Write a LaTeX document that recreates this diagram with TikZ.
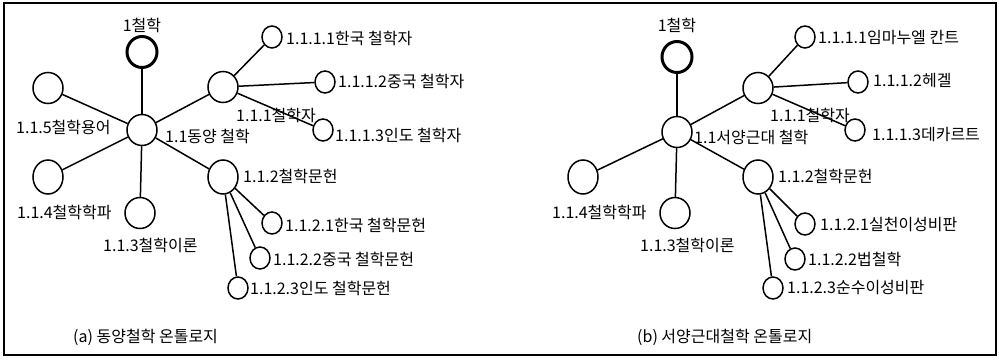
\documentclass[tikz,border=0pt]{standalone}
\usepackage{fontspec}
\setmainfont{Noto Sans CJK KR}
\usetikzlibrary{shapes.geometric}
\begin{document}
\begin{tikzpicture}[x=1pt,y=-1pt,
  bignode/.style={draw,ellipse,line width=1.5pt,inner sep=0pt,minimum width=30pt,minimum height=31pt},
  rootnode/.style={bignode,line width=3pt},
  smallnode/.style={draw,ellipse,line width=1.5pt,inner sep=0pt,minimum width=20pt,minimum height=22pt},
  lbl/.style={font=\fontsize{16}{18}\selectfont,inner sep=0pt,anchor=west},
  edge/.style={line width=1.5pt}]
\useasboundingbox (0,0) rectangle (999,359);
\draw[line width=1.2pt] (4,3) rectangle (996,355);

% ---------- (a) ----------
\node[rootnode] (aR) at (142,52) {};
\node[bignode] (a1) at (142,130) {};
\node[bignode] (a15) at (48,88) {};
\node[bignode] (a111) at (223,87) {};
\node[smallnode] (a1111) at (272,37) {};
\node[smallnode] (a1112) at (325,82) {};
\node[smallnode] (a1113) at (323,130) {};
\node[bignode,minimum height=34pt] (a14) at (48,177) {};
\node[bignode] (a13) at (140,213) {};
\node[bignode,minimum height=34pt] (a112) at (223,177) {};
\node[smallnode] (a1121) at (272,223) {};
\node[smallnode] (a1122) at (260,258) {};
\node[smallnode] (a1123) at (238,288) {};

\draw[edge] (aR) -- (a1);
\draw[edge] (a1) -- (a15);
\draw[edge] (a1) -- (a111);
\draw[edge] (a1) -- (a14);
\draw[edge] (a1) -- (a13);
\draw[edge] (a1) -- (a112);
\draw[edge] (a111) -- (a1111);
\draw[edge] (a111) -- (a1112);
\draw[edge] (a111) -- (a1113);
\draw[edge] (a112) -- (a1121);
\draw[edge] (a112) -- (a1122);
\draw[edge] (a112) -- (a1123);

\node[lbl,anchor=center] (taR) at (142,25) {1철학};
\node[lbl] (ta1) at (165,136) {1.1동양 철학};
\node[lbl] (ta15) at (16,127) {1.1.5철학용어};
\node[lbl] (ta111) at (236,115) {1.1.1철학자};
\node[lbl] (ta1111) at (286,38) {1.1.1.1한국 철학자};
\node[lbl] (ta1112) at (338,81) {1.1.1.2중국 철학자};
\node[lbl] (ta1113) at (335,135) {1.1.1.3인도 철학자};
\node[lbl] (ta14) at (17,212) {1.1.4철학학파};
\node[lbl] (ta13) at (103,245) {1.1.3철학이론};
\node[lbl] (ta112) at (243,176) {1.1.2철학문헌};
\node[lbl] (ta1121) at (285,225) {1.1.2.1한국 철학문헌};
\node[lbl] (ta1122) at (273,259) {1.1.2.2중국 철학문헌};
\node[lbl] (ta1123) at (250,288) {1.1.2.3인도 철학문헌};
\node[lbl] (capa) at (73,337) {(a) 동양철학 온톨로지};

% ---------- (b) ----------
\node[rootnode] (bR) at (677,57) {};
\node[bignode] (b1) at (677,132) {};
\node[bignode] (b111) at (758,88) {};
\node[smallnode] (b1111) at (805,37) {};
\node[smallnode] (b1112) at (858,82) {};
\node[smallnode] (b1113) at (855,130) {};
\node[bignode,minimum height=34pt] (b14) at (583,177) {};
\node[bignode] (b13) at (675,213) {};
\node[bignode,minimum height=34pt] (b112) at (758,177) {};
\node[smallnode] (b1121) at (805,224) {};
\node[smallnode] (b1122) at (795,259) {};
\node[smallnode] (b1123) at (773,288) {};

\draw[edge] (bR) -- (b1);
\draw[edge] (b1) -- (b111);
\draw[edge] (b1) -- (b14);
\draw[edge] (b1) -- (b13);
\draw[edge] (b1) -- (b112);
\draw[edge] (b111) -- (b1111);
\draw[edge] (b111) -- (b1112);
\draw[edge] (b111) -- (b1113);
\draw[edge] (b112) -- (b1121);
\draw[edge] (b112) -- (b1122);
\draw[edge] (b112) -- (b1123);

\node[lbl,anchor=center] (tbR) at (677,25) {1철학};
\node[lbl] (tb1) at (694,137) {1.1서양근대 철학};
\node[lbl] (tb111) at (770,115) {1.1.1철학자};
\node[lbl] (tb1111) at (818,38) {1.1.1.1임마누엘 칸트};
\node[lbl] (tb1112) at (873,81) {1.1.1.2헤겔};
\node[lbl] (tb1113) at (872,135) {1.1.1.3데카르트};
\node[lbl] (tb14) at (552,212) {1.1.4철학학파};
\node[lbl] (tb13) at (640,245) {1.1.3철학이론};
\node[lbl] (tb112) at (778,176) {1.1.2철학문헌};
\node[lbl] (tb1121) at (820,225) {1.1.2.1실천이성비판};
\node[lbl] (tb1122) at (808,259) {1.1.2.2법철학};
\node[lbl] (tb1123) at (787,288) {1.1.2.3순수이성비판};
\node[lbl] (capb) at (637,337) {(b) 서양근대철학 온톨로지};
\end{tikzpicture}
\end{document}
